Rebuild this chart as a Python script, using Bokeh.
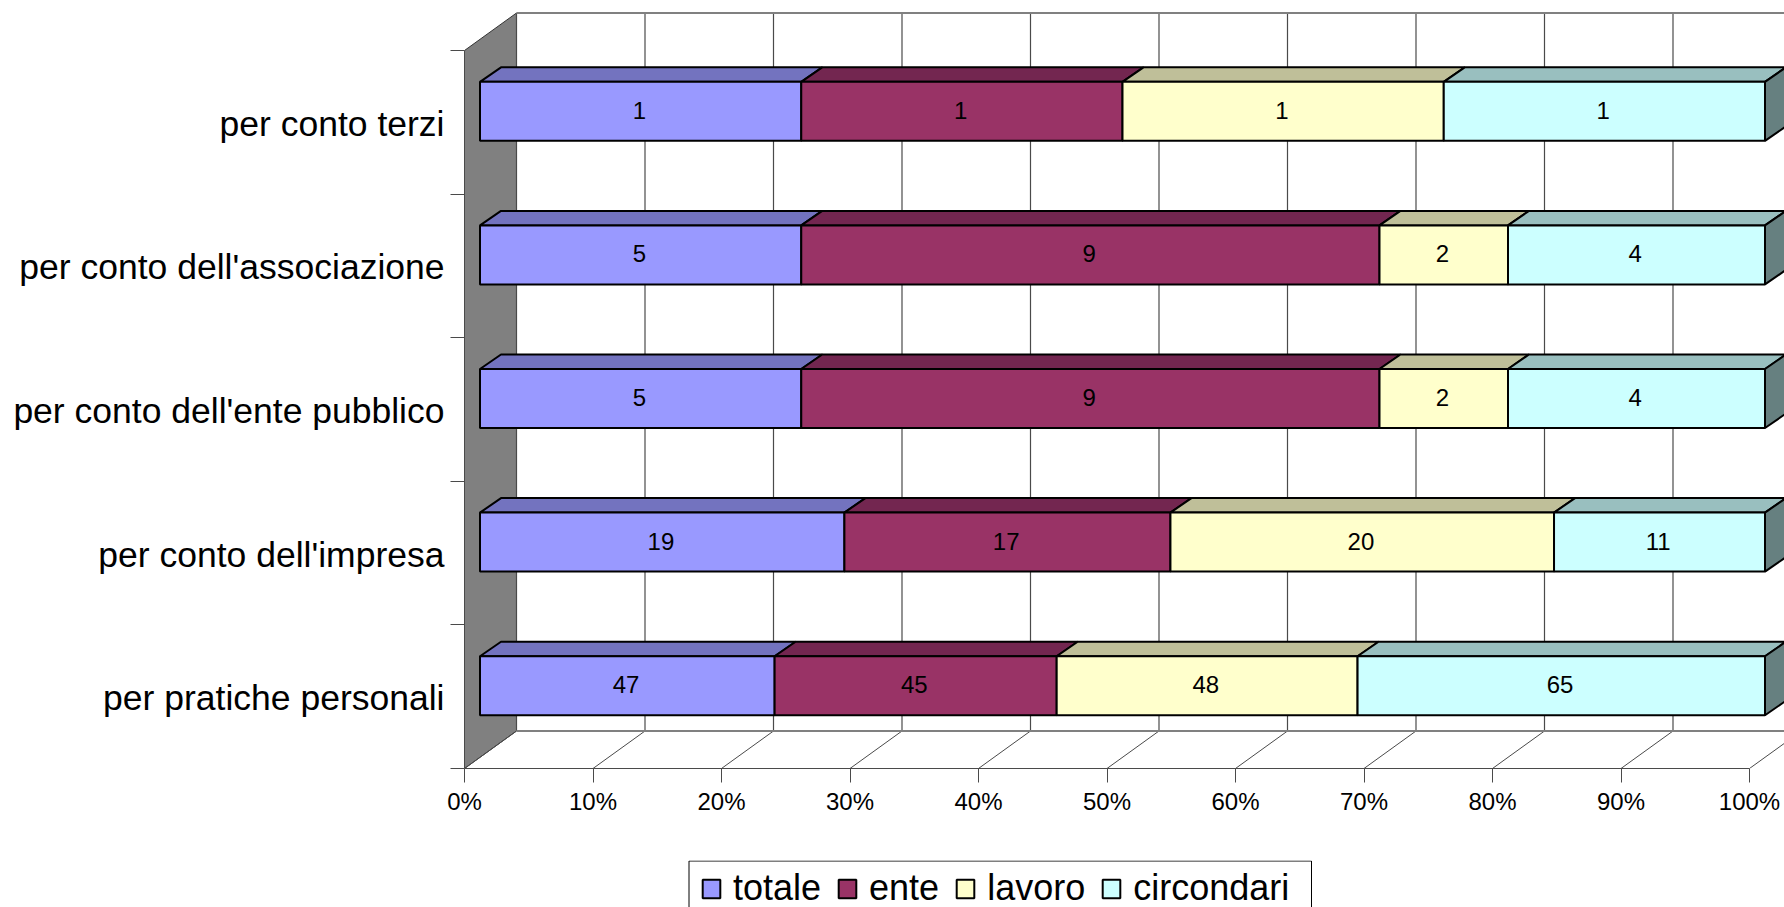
from bokeh.embed import file_html
from bokeh.layouts import column
from bokeh.models import FixedTicker, Legend, LegendItem, Range1d
from bokeh.plotting import figure
from bokeh.core.properties import value
from bokeh.resources import INLINE

# Chart data, bottom category first
categories = [
    "per pratiche personali",
    "per conto dell'impresa",
    "per conto dell'ente pubblico",
    "per conto dell'associazione",
    "per conto terzi",
]
totale = [47, 19, 5, 5, 1]
ente = [45, 17, 9, 9, 1]
lavoro = [48, 20, 2, 2, 1]
circondari = [65, 11, 4, 4, 1]
series_names = ["totale", "ente", "lavoro", "circondari"]
percent_ticks = [0, 10, 20, 30, 40, 50, 60, 70, 80, 90, 100]

front_colors = ["#9999FF", "#993366", "#FFFFCC", "#CCFFFF"]
top_colors = ["#7373BF", "#732650", "#BFBF99", "#99BFBF"]
side_color = "#668080"
wall_color = "#808080"
grid_color = "#4a4a4a"
FONT = "Liberation Sans"

# Plot scale: pixels per percent and pixels per category
PX_X = 12.85
PX_Y = 143.6
FRAME_W, FRAME_H = 1320, 768

# Oblique projection: offset of the back wall, and of the bars inside the depth
WALL_DX, WALL_DY = 52 / PX_X, 37.5 / PX_Y
BAR_INSET = 15.5 / PX_X
BAR_DX, BAR_DY = 21 / PX_X, 14.5 / PX_Y
BAR_BOTTOM, BAR_HEIGHT = 0.371, 0.411
BAR_LINE = 2

p = figure(
    width=1784, height=860, frame_width=FRAME_W, frame_height=FRAME_H,
    min_border_left=464, min_border_right=0, min_border_top=0, min_border_bottom=92,
    x_range=Range1d(0, FRAME_W / PX_X), y_range=Range1d(0, FRAME_H / PX_Y),
    output_backend="svg", toolbar_location=None, background_fill_color="white",
    border_fill_color="white",
)
p.outline_line_color = None
p.grid.visible = False

# Percent axis along the front edge of the floor
xa = p.xaxis[0]
xa.ticker = FixedTicker(ticks=percent_ticks)
xa.major_label_overrides = {t: f"{t}%" for t in percent_ticks}
xa.bounds = (0, 100)
xa.major_tick_in = 0
xa.major_tick_out = 14
xa.major_tick_line_color = grid_color
xa.axis_line_color = grid_color
xa.major_label_standoff = 5
xa.major_label_text_font = FONT
xa.major_label_text_font_size = "24px"
xa.major_label_text_color = "black"

# Category axis: labels at the middle of each band, tick marks at the band edges
ya = p.yaxis[0]
mids = [i + 0.49 for i in range(len(categories))]
ya.ticker = FixedTicker(ticks=mids, minor_ticks=list(range(len(categories) + 1)))
ya.major_label_overrides = dict(zip(mids, categories))
ya.bounds = (0, len(categories))
ya.major_tick_in = 0
ya.major_tick_out = 0
ya.minor_tick_in = 0
ya.minor_tick_out = 14
ya.minor_tick_line_color = grid_color
ya.axis_line_color = grid_color
ya.major_label_standoff = 6
ya.major_label_text_font = FONT
ya.major_label_text_font_size = "35.5px"
ya.major_label_text_color = "black"

n = len(categories)

# Left wall
p.patch([0, WALL_DX, WALL_DX, 0], [0, WALL_DY, n + WALL_DY, n],
        fill_color=wall_color, line_color="#333333", line_width=1)

# Gridlines on the back wall and across the floor
p.segment([t + WALL_DX for t in percent_ticks], [WALL_DY] * 11,
          [t + WALL_DX for t in percent_ticks], [n + WALL_DY] * 11,
          line_color=grid_color, line_width=1.2)
p.segment(percent_ticks, [0] * 11,
          [t + WALL_DX for t in percent_ticks], [WALL_DY] * 11,
          line_color=grid_color, line_width=1)
for y in (WALL_DY, n + WALL_DY):
    p.line([WALL_DX, 100 + WALL_DX], [y, y], line_color="#808080", line_width=2)

# Stacked bars with a top face on every segment and a side face at the end
series = [totale, ente, lavoro, circondari]
label_x, label_y, label_t = [], [], []
for i, (name, values) in enumerate(zip(series_names, series)):
    left, right, bottom, top = [], [], [], []
    top_xs, top_ys = [], []
    for c in range(n):
        total = sum(s[c] for s in series)
        start = sum(s[c] for s in series[:i]) / total * 100 + BAR_INSET
        end = start + values[c] / total * 100
        y0 = c + BAR_BOTTOM
        y1 = y0 + BAR_HEIGHT
        left.append(start)
        right.append(end)
        bottom.append(y0)
        top.append(y1)
        top_xs.append([start, end, end + BAR_DX, start + BAR_DX])
        top_ys.append([y1, y1, y1 + BAR_DY, y1 + BAR_DY])
        label_x.append((start + end) / 2 - 0.1)
        label_y.append((y0 + y1) / 2 + 0.007)
        label_t.append(str(values[c]))
    p.patches(top_xs, top_ys, fill_color=top_colors[i], line_color="black", line_width=BAR_LINE)
    if i == len(series) - 1:
        p.patches(
            [[r, r + BAR_DX, r + BAR_DX, r] for r in right],
            [[b, b + BAR_DY, t + BAR_DY, t] for b, t in zip(bottom, top)],
            fill_color=side_color, line_color="black", line_width=BAR_LINE,
        )
    p.quad(left=left, right=right, bottom=bottom, top=top,
           fill_color=front_colors[i], line_color="black", line_width=BAR_LINE)

p.text(label_x, label_y, text=label_t, text_font=value(FONT), text_font_size=value("24px"),
       text_align="center", text_baseline="middle", text_color="black")

# Legend strip along the bottom of the page; its box runs past the page edge
key = figure(
    width=1784, height=47, x_range=Range1d(0, FRAME_W), y_range=Range1d(0, 47),
    min_border=0, output_backend="svg", toolbar_location=None,
    x_axis_location=None, y_axis_location=None,
)
key.outline_line_color = None
key.grid.visible = False
key.quad(left=[224.5], right=[847], bottom=[-20], top=[46.5],
         fill_color="white", line_color="black", line_width=1)
legend_items = []
nan = float("nan")
for name, color in zip(series_names, front_colors):
    swatch = key.quad(left=[nan], right=[nan], bottom=[nan], top=[nan],
                      fill_color=color, line_color="black", line_width=BAR_LINE)
    legend_items.append(LegendItem(label=name, renderers=[swatch]))
legend = Legend(
    items=legend_items, orientation="horizontal", location=(236, -2),
    glyph_width=22, glyph_height=23, label_standoff=11, spacing=15, padding=7, margin=0,
    label_text_font=FONT, label_text_font_size="36px",
    label_text_color="black", border_line_color=None,
    background_fill_alpha=0, label_height=23,
)
key.add_layout(legend, "center")

open("out.html", "w").write(file_html(column(p, key, spacing=0), INLINE))
